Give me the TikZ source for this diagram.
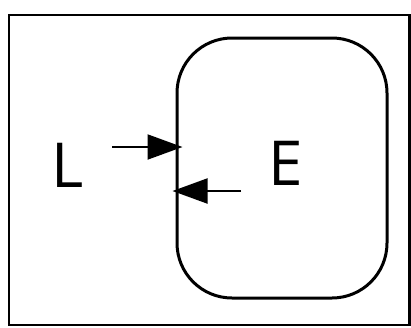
\documentclass[tikz,border=0pt]{standalone}
\usepackage{fontspec}
\setmainfont{Open Sans}
\usetikzlibrary{arrows.meta}
\begin{document}
\begin{tikzpicture}[x=1pt,y=-1pt,
    letter/.style={font=\fontsize{62}{62}\selectfont, inner sep=0pt},
    flow/.style={line width=2pt, -{Triangle[length=35pt,width=25pt]}}]
    \useasboundingbox (0,0) rectangle (411,327);
    \draw[line width=2.4pt] (9,15) rectangle (409.5,325);
    \node[draw, line width=3pt, rounded corners=55pt, minimum width=210pt,
          minimum height=260pt, inner sep=0pt] (env) at (282,168) {};
    \node[letter] (L) at (67.5,165.5) {L};
    \node[letter] (E) at (286,163.5) {E};
    \coordinate (lin) at (112,147);
    \coordinate (ein) at (241,191);
    \draw[flow, shorten >=-7pt] (lin) -- (env.west |- lin);
    \draw[flow, shorten >=-3pt] (ein) -- (env.west |- ein);
\end{tikzpicture}
\end{document}
